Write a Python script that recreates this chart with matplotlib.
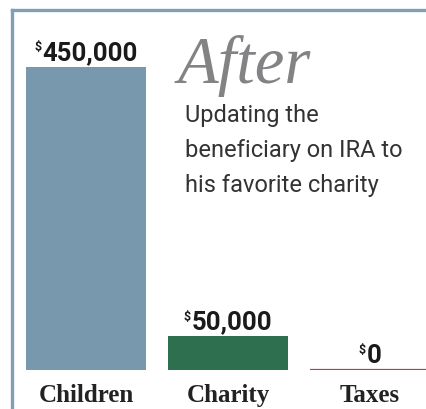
import matplotlib
matplotlib.use("Agg")
import matplotlib.pyplot as plt
from matplotlib.lines import Line2D
from matplotlib.offsetbox import TextArea, HPacker, AnnotationBbox

categories = ["Children", "Charity", "Taxes"]
values = [450000, 50000, 0]
value_labels = ["450,000", "50,000", "0"]
colors = ["#7899ad", "#2e6f50", "#c0393b"]

title = "After"
note = "Updating the\nbeneficiary on IRA to\nhis favorite charity"

W, H = 427, 410
fig = plt.figure(figsize=(W / 100, H / 100), dpi=100)

# axes placed so bar baseline sits ~39px above the bottom edge
ax = fig.add_axes([0, 39 / H, 1, (342 - 39) / H])
x = list(range(len(categories)))
bar_w = 120 / 142
ax.bar(x[:2], values[:2], width=bar_w, color=colors[:2])
# zero bar -> just a red baseline
ax.bar(x[2], values[2], width=bar_w, color=colors[2],
       edgecolor=colors[2], linewidth=1.6)
ax.set_xlim(-86 / 142, (W - 86) / 142)
ax.set_ylim(0, max(values))
ax.axis("off")

num_font = dict(family=["Roboto", "DejaVu Sans"], weight="bold", color="#1a1a1a")
for xi, v, lab in zip(x, values, value_labels):
    dollar = TextArea("$", textprops=dict(size=9, **num_font))
    num = TextArea(lab, textprops=dict(size=18.5, **num_font))
    box = HPacker(children=[dollar, num], align="top", pad=0, sep=0.5)
    ab = AnnotationBbox(box, (xi, v), xybox=(0, 2), xycoords="data",
                        boxcoords="offset points", box_alignment=(0.5, 0),
                        frameon=False, annotation_clip=False)
    ax.add_artist(ab)

for xi, c in zip(x, categories):
    ax.annotate(c, (xi, 0), xytext=(0, -22.5), textcoords="offset points",
                ha="center", va="baseline", fontsize=18, fontweight="bold",
                family="Liberation Serif", color="#222222",
                annotation_clip=False)

fig.text(178 / W, 1 - 83 / H, title, fontsize=48, style="italic",
         family="Liberation Serif", color="#838386", va="baseline")
fig.text(185 / W, 1 - 104 / H, note, fontsize=17, va="top",
         family=["Roboto", "DejaVu Sans"], color="#333333",
         linespacing=1.68)

# frame lines on top and left
border = "#7f9fb5"
fig.add_artist(Line2D([12 / W, 1], [1 - 11 / H, 1 - 11 / H], color=border, lw=2.4))
fig.add_artist(Line2D([12 / W, 12 / W], [0, 1 - 11 / H], color=border, lw=2.4))

fig.savefig("out.png", dpi=100)
